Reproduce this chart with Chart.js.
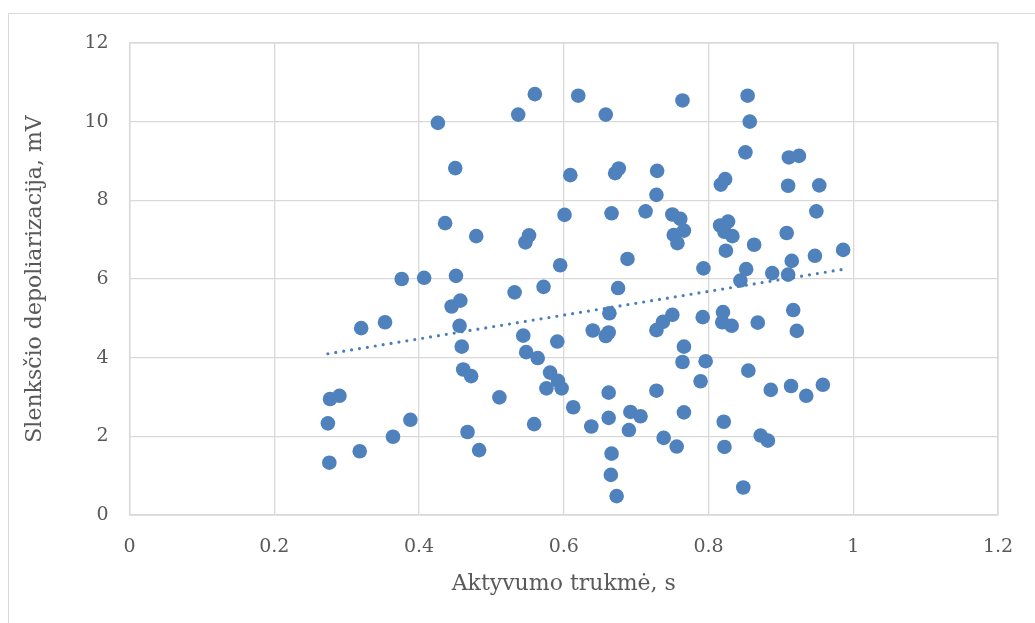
<!DOCTYPE html>
<html>
<head>
<meta charset="utf-8">
<script src="https://cdn.jsdelivr.net/npm/chart.js@4/dist/chart.umd.min.js"></script>
<style>
  html, body { margin: 0; padding: 0; background: #fff; }
  #wrap { position: relative; width: 1035px; height: 623px; overflow: hidden; }
  #frame { position: absolute; left: 8px; top: 13px; width: 1040px; height: 620px; border: 1px solid #d9d9d9; box-sizing: border-box; }
  canvas { position: absolute; left: 0; top: 0; }
</style>
</head>
<body>
<div id="wrap">
  <div id="frame"></div>
  <canvas id="c" width="1035" height="623"></canvas>
</div>
<script>
const xValues = [
  0.276,0.274,0.277,0.290,0.318,0.320,0.353,0.364,0.376,0.388,
  0.407,0.426,0.436,0.445,0.450,0.451,0.457,0.456,0.459,0.461,
  0.467,0.472,0.479,0.483,0.511,0.532,0.537,0.544,0.547,0.552,
  0.548,0.559,0.560,0.564,0.572,0.581,0.576,0.592,0.597,0.595,
  0.591,0.601,0.609,0.613,0.620,0.638,0.640,0.658,0.658,0.662,
  0.663,0.662,0.662,0.666,0.665,0.666,0.671,0.673,0.675,0.676,
  0.688,0.692,0.690,0.706,0.713,0.729,0.728,0.728,0.728,0.737,
  0.738,0.750,0.750,0.752,0.756,0.757,0.761,0.766,0.764,0.766,
  0.764,0.766,0.789,0.793,0.792,0.796,0.817,0.816,0.822,0.823,
  0.820,0.819,0.821,0.822,0.827,0.824,0.832,0.833,0.844,0.848,
  0.851,0.852,0.855,0.857,0.854,0.863,0.868,0.872,0.882,0.886,
  0.888,0.908,0.910,0.911,0.910,0.915,0.914,0.917,0.922,0.925,
  0.935,0.947,0.949,0.953,0.958,0.986
];
const yValues = [
  1.33,2.33,2.95,3.03,1.62,4.75,4.90,1.99,6.00,2.42,
  6.03,9.97,7.42,5.30,8.82,6.08,5.45,4.81,4.28,3.70,
  2.11,3.53,7.09,1.65,2.99,5.66,10.18,4.56,6.93,7.11,
  4.14,2.31,10.70,3.99,5.80,3.62,3.22,3.41,3.22,6.35,
  4.41,7.63,8.64,2.74,10.66,2.25,4.69,10.18,4.55,4.64,
  5.13,3.11,2.47,1.56,1.02,7.67,8.69,0.48,5.77,8.81,
  6.51,2.62,2.16,2.51,7.72,8.75,8.14,4.70,3.16,4.91,
  1.96,5.09,7.64,7.12,1.74,6.91,7.53,7.23,10.54,4.28,
  3.89,2.61,3.40,6.27,5.03,3.91,8.40,7.36,7.20,8.54,
  5.16,4.90,2.37,1.73,7.46,6.72,4.81,7.09,5.96,0.70,
  9.22,6.25,3.67,10.00,10.66,6.87,4.89,2.02,1.89,3.18,
  6.15,7.17,8.37,9.09,6.11,6.46,3.28,5.21,4.68,9.13,
  3.03,6.59,7.72,8.38,3.31,6.74
];
const xTickLabels = ['0','0.2','0.4','0.6','0.8','1','1.2'];
const yTickLabels = ['0','2','4','6','8','10','12'];
const xTitle = 'Aktyvumo trukmė, s';
const yTitle = 'Slenksčio depoliarizacija, mV';

const points = xValues.map((x, i) => ({ x: x, y: yValues[i] }));

// linear least-squares trendline (as in the original's linear trendline)
const n = xValues.length;
const mx = xValues.reduce((a, b) => a + b, 0) / n;
const my = yValues.reduce((a, b) => a + b, 0) / n;
let sxy = 0, sxx = 0;
for (let i = 0; i < n; i++) { sxy += (xValues[i] - mx) * (yValues[i] - my); sxx += (xValues[i] - mx) ** 2; }
const slope = sxy / sxx, intercept = my - slope * mx;
const xmin = Math.min(...xValues), xmax = Math.max(...xValues);
const trend = [{ x: xmin, y: intercept + slope * xmin }, { x: xmax, y: intercept + slope * xmax }];

const FONT = 'DejaVu Serif';
const TXT = '#595959';
const GRID = '#d9d9d9';

new Chart(document.getElementById('c'), {
  type: 'scatter',
  data: {
    datasets: [
      {
        data: points,
        backgroundColor: '#4f81bd',
        borderColor: '#4f81bd',
        borderWidth: 0,
        pointRadius: 7.3,
        pointHoverRadius: 7.3,
        order: 2
      },
      {
        type: 'line',
        data: trend,
        borderColor: '#4a7ebb',
        borderWidth: 3.2,
        borderDash: [0, 8],
        borderCapStyle: 'round',
        pointRadius: 0,
        fill: false,
        order: 1
      }
    ]
  },
  options: {
    responsive: false,
    animation: false,
    events: [],
    layout: { padding: { left: 14, top: 43, right: 37, bottom: 26 } },
    plugins: { legend: { display: false }, tooltip: { enabled: false } },
    scales: {
      x: {
        type: 'linear', min: 0, max: 1.2,
        afterFit: s => { s.height = 597 - 515; },
        ticks: {
          stepSize: 0.2,
          padding: 21,
          color: TXT,
          font: { family: FONT, size: 19 },
          callback: (v, i) => xTickLabels[i]
        },
        grid: { color: GRID, lineWidth: 1.3, drawTicks: false },
        border: { color: GRID, width: 1.3 },
        title: { display: true, text: xTitle, color: TXT, font: { family: FONT, size: 22 }, padding: { top: 0, bottom: 0 } }
      },
      y: {
        type: 'linear', min: 0, max: 12,
        afterFit: s => { s.width = 129.6 - 14; },
        ticks: {
          stepSize: 2,
          padding: 21,
          color: TXT,
          font: { family: FONT, size: 19 },
          callback: (v, i) => yTickLabels[i]
        },
        grid: { color: GRID, lineWidth: 1.3, drawTicks: false },
        border: { color: GRID, width: 1.3 },
        title: { display: true, text: yTitle, color: TXT, font: { family: FONT, size: 22 }, padding: { top: 8, bottom: 0 } }
      }
    }
  },
  plugins: [{
    id: 'plotBorder',
    afterDraw(chart) {
      const a = chart.chartArea, ctx = chart.ctx;
      ctx.save();
      ctx.strokeStyle = GRID; ctx.lineWidth = 1.3;
      ctx.strokeRect(a.left, a.top, a.right - a.left, a.bottom - a.top);
      ctx.restore();
    }
  }]
});
</script>
</body>
</html>
